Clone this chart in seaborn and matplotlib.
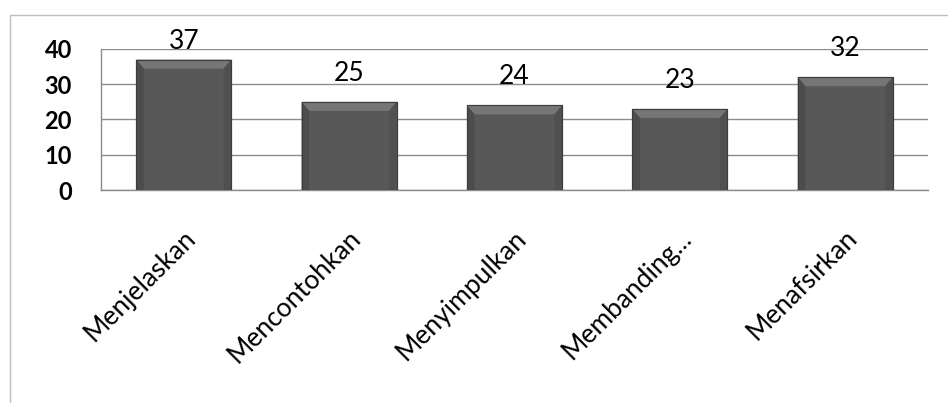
import numpy as np
import pandas as pd
import matplotlib
matplotlib.use("Agg")
import matplotlib.pyplot as plt
from matplotlib.patches import Polygon, Rectangle
from matplotlib.transforms import ScaledTranslation
import seaborn as sns

# Data
categories = ["Menjelaskan", "Mencontohkan", "Menyimpulkan", "Membanding...", "Menafsirkan"]
values = [37, 25, 24, 23, 32]
y_ticks = [0, 10, 20, 30, 40]

df = pd.DataFrame({"kategori": categories, "nilai": values})

sns.set_theme(style="white")
plt.rcParams["font.family"] = ["Lato", "DejaVu Sans"]

fig = plt.figure(figsize=(9.48, 4.03), dpi=100)
ax = fig.add_axes([101 / 948, 1 - 190 / 403, (928 - 101) / 948, (190 - 49) / 403])

sns.barplot(data=df, x="kategori", y="nilai", color="#585858", width=0.575,
            edgecolor="#3c3c3c", linewidth=0.8, ax=ax, zorder=3, saturation=1)

ax.set_ylim(0, 40)
ax.set_yticks(y_ticks)
ax.set_xlim(-0.5, len(categories) - 0.5)
ax.grid(axis="y", color="#8c8c8c", linewidth=1.0, zorder=0)
ax.set_axisbelow(True)
for side in ["top", "right"]:
    ax.spines[side].set_visible(False)
for side in ["left", "bottom"]:
    ax.spines[side].set_color("#8c8c8c")
    ax.spines[side].set_linewidth(1.0)
ax.set_xlabel("")
ax.set_ylabel("")
ax.tick_params(axis="y", length=0, pad=21)
ax.tick_params(axis="x", length=0, pad=0)
for lab in ax.get_yticklabels():
    lab.set_fontweight("bold")
    lab.set_fontsize(17)
    lab.set_color("black")

ax.set_xticks(range(len(categories)))
ax.set_xticklabels(categories, rotation=45, ha="right", va="center",
                   rotation_mode="anchor", fontsize=19, color="black")
for lab in ax.get_xticklabels():
    lab.set_transform(lab.get_transform() +
                      ScaledTranslation(8 / 100, -44 / 100, fig.dpi_scale_trans))

# Bevel shading on each bar, derived from the bar geometry
px_per_unit = (190 - 49) / 40.0
for bar in ax.patches:
    x0 = bar.get_x()
    w = bar.get_width()
    h = bar.get_height()
    bevel_x = w * 0.08
    bevel_y = 9 / px_per_unit
    top = Polygon([[x0, h], [x0 + w, h], [x0 + w - bevel_x, h - bevel_y],
                   [x0 + bevel_x, h - bevel_y]], closed=True,
                  facecolor="#767676", edgecolor="none", zorder=4)
    left = Polygon([[x0, h], [x0 + bevel_x, h - bevel_y], [x0 + bevel_x, 0], [x0, 0]],
                   closed=True, facecolor="#4c4c4c", edgecolor="none", zorder=4)
    right = Polygon([[x0 + w, h], [x0 + w - bevel_x, h - bevel_y], [x0 + w - bevel_x, 0],
                     [x0 + w, 0]], closed=True, facecolor="#505050", edgecolor="none", zorder=4)
    ax.add_patch(top)
    ax.add_patch(left)
    ax.add_patch(right)
    ax.add_patch(Rectangle((x0, 0), w, h, facecolor="none", edgecolor="#3c3c3c",
                           linewidth=0.8, zorder=5))

# Value labels above the bars
label_gap = 21 / px_per_unit
for i, v in enumerate(values):
    ax.text(i, min(v + label_gap, 40), str(v), ha="center", va="baseline",
            fontsize=19, color="black", zorder=6, clip_on=False)

# Outer chart frame
fig.patches.append(Rectangle((10 / 948, -0.1), 1.2, 1 - 15 / 403 + 0.1,
                             transform=fig.transFigure, facecolor="none",
                             edgecolor="#bfbfbf", linewidth=1.0))

fig.savefig("out.png", dpi=100)
